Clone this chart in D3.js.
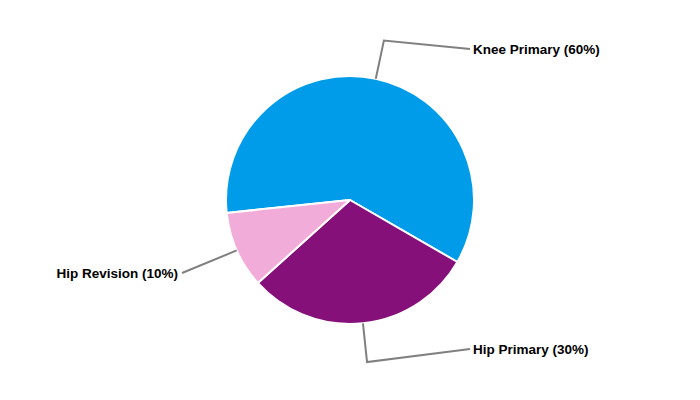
<!DOCTYPE html>
<html><head><meta charset="utf-8">
<script src="https://cdn.jsdelivr.net/npm/d3@7"></script>
<style>body{margin:0;background:#fff}</style>
</head><body>
<svg id="chart" width="700" height="400"></svg>
<script>
const categories = ["Knee Primary", "Hip Primary", "Hip Revision"];
const values = [60, 30, 10];
const colors = ["#009CEA", "#86107A", "#F1ACDA"];
// label layout (y positions of label anchors)
const labelY = [49, 349, 273];

const W = 700, H = 400, cx = 350, cy = 200, R = 124, elbowR = 163;
const svg = d3.select("#chart");
const g = svg.append("g").attr("transform", `translate(${cx},${cy})`);

const startA = -96 * Math.PI / 180;
const pie = d3.pie().sort(null).startAngle(startA).endAngle(startA + 2 * Math.PI);
const arcs = pie(values);
const arc = d3.arc().innerRadius(0).outerRadius(R);

g.selectAll("path.slice").data(arcs).enter().append("path")
  .attr("class", "slice")
  .attr("d", arc)
  .attr("fill", (d, i) => colors[i])
  .attr("stroke", "#fff").attr("stroke-width", 2).attr("stroke-linejoin", "round");

const pt = (a, r) => [r * Math.sin(a), -r * Math.cos(a)];
arcs.forEach((d, i) => {
  const mid = (d.startAngle + d.endAngle) / 2;
  const p0 = pt(mid, R);
  const p1 = pt(mid, elbowR);
  const right = Math.sin(mid) > 0;
  const lx = right ? 470 - cx : 182 - cx;
  const ly = labelY[i] - cy;
  const pts = right ? [p0, p1, [lx, ly]] : [p0, [lx, ly]];
  g.append("polyline")
    .attr("points", pts.map(p => p.join(",")).join(" "))
    .attr("fill", "none").attr("stroke", "#808080").attr("stroke-width", 2);
  g.append("text")
    .attr("x", right ? lx + 3 : lx - 4)
    .attr("y", ly)
    .attr("dy", "0.35em")
    .attr("text-anchor", right ? "start" : "end")
    .attr("font-family", "Liberation Sans, Arial, sans-serif")
    .attr("font-weight", "bold")
    .attr("font-size", "13.5px")
    .attr("fill", "#000")
    .text(`${categories[i]} (${values[i]}%)`);
});
</script>
</body></html>
